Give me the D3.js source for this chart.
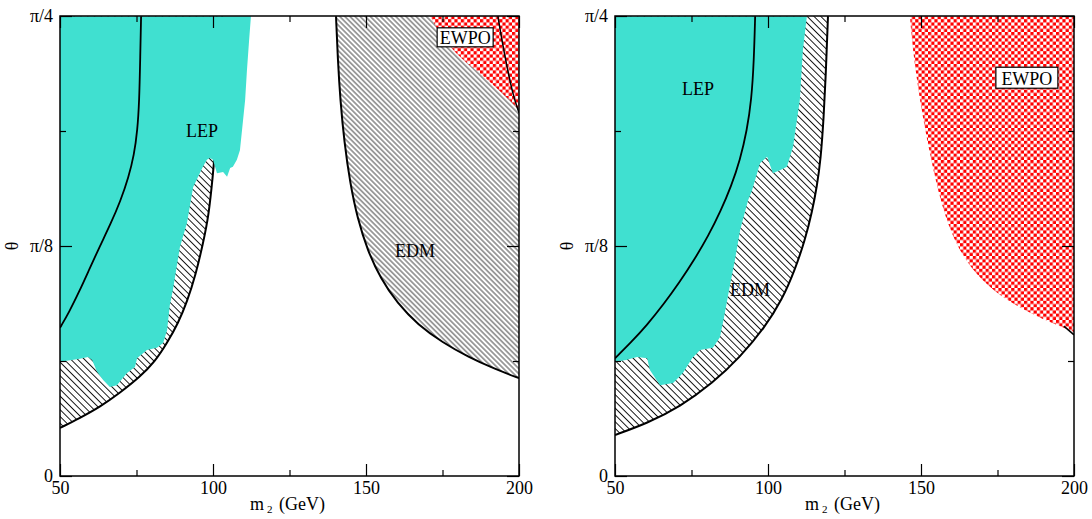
<!DOCTYPE html>
<html lang="en">
<head>
  <meta charset="UTF-8">
  <title>LEP, EDM and EWPO exclusion in the (m2, theta) plane</title>
  <script src="https://d3js.org/d3.v7.min.js"></script>
  <style>
    body {
      margin: 0;
      background: #fff;
      font-family: "Liberation Serif", "DejaVu Serif", serif;
    }
    svg text {
      font-family: "Liberation Serif", "DejaVu Serif", serif;
    }
  </style>
</head>
<body>
<script>
const width = 1092;
const height = 519;

// axis ticks
const massTicks = [50, 100, 150, 200];
const massMinor = [75, 125, 175];
const thetaTicks = [0, Math.PI / 8, Math.PI / 4];
const thetaLabels = ["0", "\u03c0/8", "\u03c0/4"];
const thetaMinor = [Math.PI / 16, 3 * Math.PI / 16];

// left panel: [m2 (GeV), theta (rad)]
const lepLeft = [
  [50, 0.785], [112.4, 0.785], [111.8, 0.744], [111.1, 0.693], [110.5, 0.642],
  [109.5, 0.591], [108.8, 0.556], [107.8, 0.540], [106.5, 0.528], [105.6, 0.526],
  [104.6, 0.511], [103.3, 0.519], [101.3, 0.517], [100.0, 0.540], [99.0, 0.543],
  [98.0, 0.540], [96.7, 0.528], [93.5, 0.493], [91.5, 0.432], [89.2, 0.391],
  [86.9, 0.318], [85.9, 0.292], [85.0, 0.249], [83.7, 0.227], [81.7, 0.219],
  [78.4, 0.215], [75.2, 0.201], [74.5, 0.186], [71.9, 0.176], [68.6, 0.155],
  [66.3, 0.152], [64.1, 0.164], [62.1, 0.178], [60.5, 0.198], [59.2, 0.203],
  [56.5, 0.200], [53.9, 0.198], [50, 0.195]
];
const innerLeft = [
  [76.5, 0.785], [76.2, 0.710], [75.9, 0.640], [75.3, 0.590], [74.2, 0.548],
  [72.4, 0.510], [69.8, 0.470], [66.5, 0.430], [63.0, 0.392], [59.5, 0.352],
  [56.2, 0.314], [53.0, 0.280], [50, 0.253]
];
const edmLowLeft = [
  [50, 0.082], [56.5, 0.099], [63.1, 0.118], [69.6, 0.142], [76.1, 0.169],
  [81.0, 0.195], [85.0, 0.227], [88.6, 0.261], [91.5, 0.297], [94.4, 0.345],
  [96.7, 0.396], [98.6, 0.445], [99.9, 0.510], [101.0, 0.574], [102.2, 0.676],
  [103.0, 0.785]
];
const edmHighLeft = [
  [140.2, 0.785], [140.8, 0.710], [141.6, 0.642], [142.9, 0.570], [144.8, 0.500],
  [147.2, 0.440], [150.5, 0.385], [154.8, 0.337], [160.2, 0.295], [167.0, 0.258],
  [175.0, 0.228], [183.5, 0.203], [192.0, 0.183], [200, 0.167]
];
const ewpoLeft = [
  [170.9, 0.785], [174.2, 0.756], [178.4, 0.727], [182.4, 0.707], [187.3, 0.688],
  [192.8, 0.662], [198.0, 0.637], [200, 0.625]
];
const ewpoLineLeft = [
  [193.1, 0.785], [194.4, 0.744], [196.1, 0.698], [198.0, 0.651], [200, 0.620]
];

// right panel
const lepRight = [
  [50, 0.785], [112.7, 0.785], [111.4, 0.727], [110.4, 0.642], [108.2, 0.562],
  [106.2, 0.528], [103.9, 0.522], [101.6, 0.517], [99.7, 0.545], [97.4, 0.534],
  [94.8, 0.488], [93.5, 0.471], [90.9, 0.420], [89.2, 0.369], [87.3, 0.318],
  [85.6, 0.270], [84.3, 0.237], [82.0, 0.219], [77.8, 0.215], [75.2, 0.201],
  [72.2, 0.176], [69.0, 0.159], [64.7, 0.155], [61.4, 0.181], [60.5, 0.201],
  [57.2, 0.203], [53.6, 0.198], [50, 0.195]
];
const innerRight = [
  [95.8, 0.785], [95.4, 0.710], [94.6, 0.642], [93.1, 0.590], [90.9, 0.540],
  [88.0, 0.495], [84.5, 0.452], [80.5, 0.410], [76.0, 0.370], [71.0, 0.330],
  [66.0, 0.294], [60.5, 0.258], [55.2, 0.228], [50, 0.201]
];
const edmRight = [
  [50, 0.070], [60.5, 0.090], [71.2, 0.118], [82.0, 0.159], [90.9, 0.203],
  [99.0, 0.254], [104.6, 0.301], [108.8, 0.352], [112.1, 0.403], [114.4, 0.451],
  [116.0, 0.495], [117.2, 0.540], [118.2, 0.610], [119.0, 0.700], [119.6, 0.785]
];
const ewpoRight = [
  [146.4, 0.785], [147.0, 0.744], [148.3, 0.690], [150.0, 0.630], [152.5, 0.560],
  [155.8, 0.480], [160.0, 0.410], [166.0, 0.355], [174.0, 0.314], [183.0, 0.285],
  [192.0, 0.263], [200, 0.246]
];
const ewpoTailRight = [[196.7, 0.256], [200, 0.241]];

const svg = d3.select("body").append("svg")
  .attr("width", width)
  .attr("height", height)
  .attr("viewBox", [0, 0, width, height]);

const defs = svg.append("defs");

function hatch(id, step, color, sw) {
  const p = defs.append("pattern")
    .attr("id", id)
    .attr("patternUnits", "userSpaceOnUse")
    .attr("width", step)
    .attr("height", step)
    .attr("patternTransform", "rotate(45)");
  p.append("rect").attr("width", step).attr("height", step).attr("fill", "#fff");
  p.append("line")
    .attr("x1", 0).attr("x2", step)
    .attr("y1", step / 2).attr("y2", step / 2)
    .attr("stroke", color)
    .attr("stroke-width", sw);
}
hatch("hatchA", 4.8, "#111", 1);
hatch("hatchB", 3.6, "#333", 0.9);

const checker = defs.append("pattern")
  .attr("id", "checker")
  .attr("patternUnits", "userSpaceOnUse")
  .attr("width", 6.4)
  .attr("height", 6.4);
checker.append("rect").attr("width", 6.4).attr("height", 6.4).attr("fill", "#fff");
checker.append("rect").attr("width", 3.2).attr("height", 3.2).attr("fill", "#ff0000");
checker.append("rect").attr("x", 3.2).attr("y", 3.2).attr("width", 3.2).attr("height", 3.2).attr("fill", "#ff0000");

const yTop = 16, yBottom = 476;
const y = d3.scaleLinear().domain([0, Math.PI / 4]).range([yBottom, yTop]);

function panel(x0, x1, idx) {
  const x = d3.scaleLinear().domain([50, 200]).range([x0, x1]);
  const g = svg.append("g");
  const clipId = "clip" + idx;
  defs.append("clipPath").attr("id", clipId)
    .append("rect").attr("x", x0).attr("y", yTop).attr("width", x1 - x0).attr("height", yBottom - yTop);
  const body = g.append("g").attr("clip-path", `url(#${clipId})`);

  const smooth = d3.line().x(d => x(d[0])).y(d => y(d[1])).curve(d3.curveBasis);
  const poly = d3.line().x(d => x(d[0])).y(d => y(d[1]));
  const closeTo = (pts, corners) =>
    smooth(pts) + corners.map(c => `L${x(c[0])},${y(c[1])}`).join("") + "Z";

  return { x, g, body, smooth, poly, closeTo };
}

function frame(p, x0, x1) {
  const { x, g } = p;
  const majorB = d3.axisBottom(x).tickValues(massTicks).tickSizeInner(-12).tickSizeOuter(0).tickPadding(5);
  const minorB = d3.axisBottom(x).tickValues(massMinor).tickSizeInner(-6).tickSizeOuter(0).tickFormat("");
  const majorT = d3.axisTop(x).tickValues(massTicks).tickSizeInner(-12).tickSizeOuter(0).tickFormat("");
  const minorT = d3.axisTop(x).tickValues(massMinor).tickSizeInner(-6).tickSizeOuter(0).tickFormat("");
  const majorL = d3.axisLeft(y).tickValues(thetaTicks).tickSizeInner(-12).tickSizeOuter(0).tickPadding(7)
    .tickFormat((d, i) => thetaLabels[i]);
  const minorL = d3.axisLeft(y).tickValues(thetaMinor).tickSizeInner(-6).tickSizeOuter(0).tickFormat("");
  const majorR = d3.axisRight(y).tickValues(thetaTicks).tickSizeInner(-12).tickSizeOuter(0).tickFormat("");
  const minorR = d3.axisRight(y).tickValues(thetaMinor).tickSizeInner(-6).tickSizeOuter(0).tickFormat("");

  const add = (ax, tr) => {
    const a = g.append("g").attr("transform", tr).call(ax);
    a.select(".domain").remove();
    a.selectAll("line").attr("stroke", "#000").attr("stroke-width", 1.2);
    a.selectAll("text").attr("font-size", 18).attr("fill", "#000")
      .style("font-family", "'Liberation Serif', serif");
    return a;
  };
  add(majorB, `translate(0,${yBottom})`);
  add(minorB, `translate(0,${yBottom})`);
  add(majorT, `translate(0,${yTop})`);
  add(minorT, `translate(0,${yTop})`);
  add(majorL, `translate(${x0},0)`);
  add(minorL, `translate(${x0},0)`);
  add(majorR, `translate(${x1},0)`);
  add(minorR, `translate(${x1},0)`);

  g.append("rect")
    .attr("x", x0).attr("y", yTop)
    .attr("width", x1 - x0).attr("height", yBottom - yTop)
    .attr("fill", "none").attr("stroke", "#000").attr("stroke-width", 1.5);

  g.append("text")
    .attr("transform", `translate(${x0 - 42},${y(Math.PI / 8)}) rotate(-90)`)
    .attr("text-anchor", "middle")
    .attr("font-size", 18)
    .text("\u03b8");

  const xl = g.append("text")
    .attr("x", x0 + 190).attr("y", 510)
    .attr("font-size", 18);
  xl.append("tspan").text("m");
  xl.append("tspan").attr("dx", 3).attr("dy", 3).attr("font-size", 11).text("2");
  xl.append("tspan").attr("dx", 2).attr("dy", -3).text(" (GeV)");
}

function label(p, m, t, txt) {
  p.g.append("text")
    .attr("x", p.x(m)).attr("y", y(t))
    .attr("text-anchor", "middle")
    .attr("dominant-baseline", "central")
    .attr("font-size", 18)
    .text(txt);
}

function boxLabel(p, m, t, txt, w, h) {
  const cx = p.x(m), cy = y(t);
  p.g.append("rect")
    .attr("x", cx - w / 2).attr("y", cy - h / 2)
    .attr("width", w).attr("height", h)
    .attr("fill", "#fff").attr("stroke", "#000").attr("stroke-width", 1.2);
  p.g.append("text")
    .attr("x", cx).attr("y", cy + 1)
    .attr("text-anchor", "middle")
    .attr("dominant-baseline", "central")
    .attr("font-size", 18)
    .text(txt);
}

// ---- left panel
const L = panel(60, 519, 0);
L.body.append("path").attr("d", L.closeTo(edmLowLeft, [[50, Math.PI / 4]])).attr("fill", "url(#hatchA)");
L.body.append("path").attr("d", L.closeTo(edmHighLeft, [[200, Math.PI / 4]])).attr("fill", "url(#hatchB)");
L.body.append("path").attr("d", L.closeTo(ewpoLeft, [[200, Math.PI / 4]])).attr("fill", "url(#checker)");
L.body.append("path").attr("d", L.smooth(edmLowLeft)).attr("fill", "none").attr("stroke", "#000").attr("stroke-width", 2);
L.body.append("path").attr("d", L.smooth(edmHighLeft)).attr("fill", "none").attr("stroke", "#000").attr("stroke-width", 2);
L.body.append("path").attr("d", L.poly(lepLeft) + "Z").attr("fill", "#40e0d0");
L.body.append("path").attr("d", L.smooth(innerLeft)).attr("fill", "none").attr("stroke", "#000").attr("stroke-width", 1.8);
L.body.append("path").attr("d", L.smooth(ewpoLineLeft)).attr("fill", "none").attr("stroke", "#000").attr("stroke-width", 1.5);
frame(L, 60, 519);
label(L, 96.4, 0.589, "LEP");
label(L, 166, 0.384, "EDM");
boxLabel(L, 182.4, 0.749, "EWPO", 56, 19);

// ---- right panel
const R = panel(615, 1074, 1);
R.body.append("path").attr("d", R.closeTo(edmRight, [[50, Math.PI / 4]])).attr("fill", "url(#hatchA)");
R.body.append("path").attr("d", R.smooth(edmRight)).attr("fill", "none").attr("stroke", "#000").attr("stroke-width", 2);
R.body.append("path").attr("d", R.poly(lepRight) + "Z").attr("fill", "#40e0d0");
R.body.append("path").attr("d", R.smooth(innerRight)).attr("fill", "none").attr("stroke", "#000").attr("stroke-width", 1.8);
R.body.append("path").attr("d", R.closeTo(ewpoRight, [[200, Math.PI / 4]])).attr("fill", "url(#checker)");
R.body.append("path").attr("d", R.poly(ewpoTailRight)).attr("fill", "none").attr("stroke", "#000").attr("stroke-width", 1.5);
frame(R, 615, 1074);
label(R, 77.1, 0.661, "LEP");
label(R, 94.1, 0.318, "EDM");
boxLabel(R, 184.6, 0.680, "EWPO", 62, 21);
</script>
</body>
</html>
